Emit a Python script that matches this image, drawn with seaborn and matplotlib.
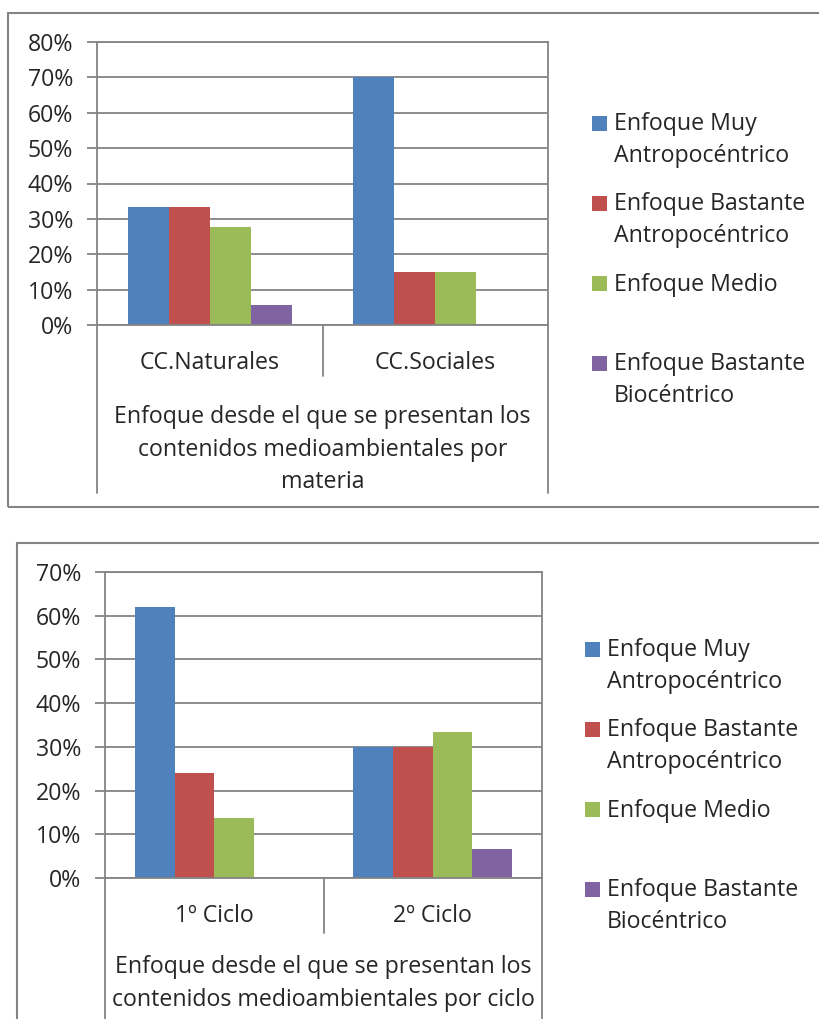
import pandas as pd
import matplotlib
matplotlib.use("Agg")
import matplotlib.pyplot as plt
from matplotlib.patches import Rectangle
from matplotlib.ticker import PercentFormatter
import seaborn as sns

# Series names (legend) and colours
series = ["Enfoque Muy\nAntropocéntrico", "Enfoque Bastante\nAntropocéntrico",
          "Enfoque Medio", "Enfoque Bastante\nBiocéntrico"]
colors = ["#4F81BD", "#C0504D", "#9BBB59", "#8064A2"]

# Chart 1: by subject
materias = ["CC.Naturales", "CC.Sociales"]
muy_antropo_materia = [0.333, 0.70]
bastante_antropo_materia = [0.333, 0.15]
medio_materia = [0.278, 0.15]
biocentrico_materia = [0.056, 0.0]

# Chart 2: by cycle
ciclos = ["1º Ciclo", "2º Ciclo"]
muy_antropo_ciclo = [0.621, 0.30]
bastante_antropo_ciclo = [0.241, 0.30]
medio_ciclo = [0.138, 0.333]
biocentrico_ciclo = [0.0, 0.067]

titulo_materia = "Enfoque desde el que se presentan los\ncontenidos medioambientales por\nmateria"
titulo_ciclo = "Enfoque desde el que se presentan los\ncontenidos medioambientales por ciclo"


def to_long(cats, cols):
    rows = []
    for name, vals in zip(series, cols):
        for c, v in zip(cats, vals):
            rows.append({"cat": c, "serie": name, "val": v})
    return pd.DataFrame(rows)


df_materia = to_long(materias, [muy_antropo_materia, bastante_antropo_materia,
                                medio_materia, biocentrico_materia])
df_ciclo = to_long(ciclos, [muy_antropo_ciclo, bastante_antropo_ciclo,
                            medio_ciclo, biocentrico_ciclo])

sns.set_theme(style="white")
plt.rcParams["font.family"] = ["Open Sans", "DejaVu Sans"]
FS = 16.7
GRAY = "#848484"
LINE_PX = 31  # legend line spacing in pixels

W, H = 820, 1019
fig = plt.figure(figsize=(W / 100, H / 100), dpi=100)


def fx(px):
    return px / W


def fy(py):
    return 1 - py / H


def draw_chart(ax, df, cats, ymax, xlabel, drop_outer, label_y):
    sns.barplot(data=df, x="cat", y="val", hue="serie", hue_order=series,
                order=cats, palette=colors, width=0.727, saturation=1,
                linewidth=0, legend=False, ax=ax)
    ax.set_xlim(-0.5, 1.5)
    ax.set_ylim(0, ymax)
    ax.set_yticks([i / 10 for i in range(int(round(ymax * 10)) + 1)])
    ax.yaxis.set_major_formatter(PercentFormatter(1.0, decimals=0))
    ax.set_axisbelow(True)
    ax.yaxis.grid(True, color=GRAY, lw=1.3)
    ax.xaxis.grid(False)
    for s in ax.spines.values():
        s.set_visible(True)
        s.set_color(GRAY)
        s.set_linewidth(1.3)
    ax.tick_params(axis="y", length=7, width=1.3, color=GRAY, pad=10,
                   labelsize=FS, left=True)
    ax.tick_params(axis="x", length=0, pad=19, labelsize=FS)
    ax.set_ylabel("")
    ax.set_xlabel(xlabel, fontsize=FS, linespacing=1.46)
    ax.xaxis.set_label_coords(0.5, label_y)
    # multi-level category axis dividers
    tr = ax.get_xaxis_transform()
    ax.plot([0.5, 0.5], [0, -0.18], transform=tr, clip_on=False, color=GRAY, lw=1.3)
    for x in (-0.5, 1.5):
        ax.plot([x, x], [0, drop_outer], transform=tr, clip_on=False, color=GRAY, lw=1.3)


def draw_legend(x_sq, x_txt, y_tops):
    for name, col, top in zip(series, colors, y_tops):
        fig.add_artist(Rectangle((fx(x_sq), fy(top + 15)), 15 / W, 15 / H,
                                 transform=fig.transFigure, color=col, lw=0))
        # matplotlib puts the last line on the baseline, so shift by extra lines
        extra = name.count("\n") * LINE_PX
        fig.text(fx(x_txt), fy(top + 15 + extra), name, fontsize=FS,
                 va="baseline", ha="left", linespacing=1.46)


# top chart
fig.add_artist(Rectangle((fx(8), fy(507)), (840 - 8) / W, (507 - 13) / H,
                         transform=fig.transFigure, fill=False, ec=GRAY, lw=1.5))
ax1 = fig.add_axes([fx(97), fy(325), (548 - 97) / W, (325 - 42) / H])
draw_chart(ax1, df_materia, materias, 0.8, titulo_materia, -0.594, -0.284)
draw_legend(592, 614, [116, 196, 276, 356])

# bottom chart
fig.add_artist(Rectangle((fx(17), fy(1040)), (840 - 17) / W, (1040 - 543) / H,
                         transform=fig.transFigure, fill=False, ec=GRAY, lw=1.5))
ax2 = fig.add_axes([fx(105), fy(878), (542 - 105) / W, (878 - 572) / H])
draw_chart(ax2, df_ciclo, ciclos, 0.7, titulo_ciclo, -0.6, -0.253)
draw_legend(585, 607, [642, 722, 802, 882])

fig.savefig("out.png", dpi=100)
